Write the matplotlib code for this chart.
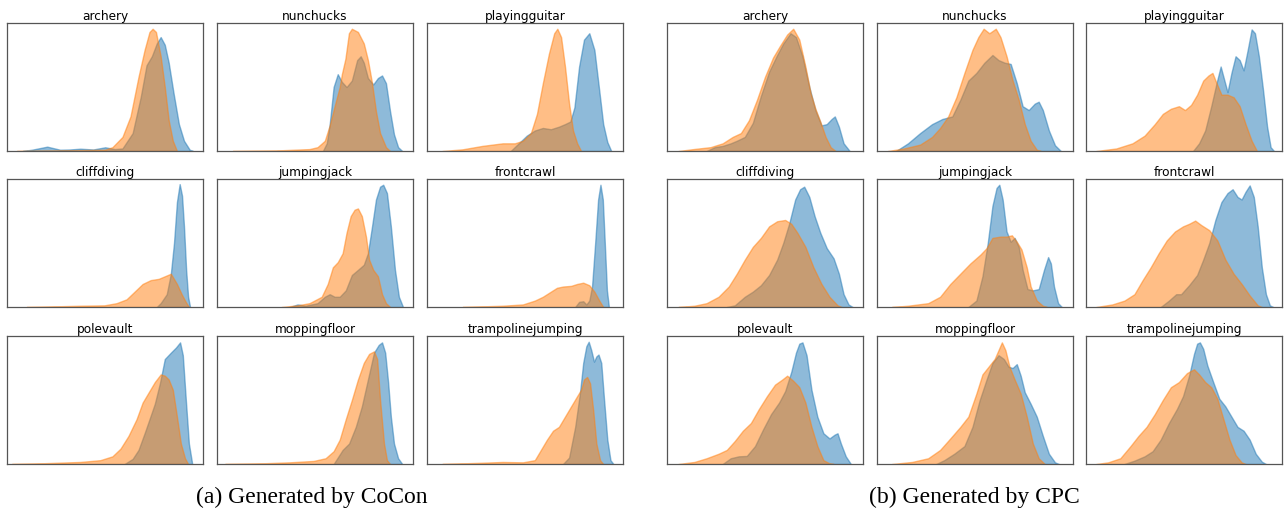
import matplotlib
matplotlib.use("Agg")
import numpy as np
import matplotlib.pyplot as plt

# class names, same order for both methods (row by row)
classes = ["archery", "nunchucks", "playingguitar",
           "cliffdiving", "jumpingjack", "frontcrawl",
           "polevault", "moppingfloor", "trampolinejumping"]

# density curves: (x, density), both scaled to the panel
# --- (a) CoCon ---
cocon_archery_blue = [(0.08, 0), (0.127, 0.01), (0.205, 0.034), (0.271, 0.01), (0.32, 0.012), (0.374, 0.018),
                      (0.44, 0.012), (0.501, 0.029), (0.55, 0.015), (0.589, 0.02), (0.641, 0.14), (0.682, 0.42),
                      (0.712, 0.67), (0.739, 0.74), (0.764, 0.84), (0.784, 0.89), (0.805, 0.83), (0.825, 0.69),
                      (0.85, 0.45), (0.877, 0.21), (0.903, 0.08), (0.932, 0.01), (0.949, 0)]
cocon_archery_orange = [(0.05, 0), (0.3, 0.005), (0.5, 0.01), (0.538, 0.03), (0.589, 0.11), (0.63, 0.27),
                        (0.671, 0.58), (0.702, 0.79), (0.727, 0.93), (0.743, 0.955), (0.76, 0.93), (0.784, 0.74),
                        (0.805, 0.5), (0.825, 0.24), (0.846, 0.08), (0.867, 0)]
cocon_nunchucks_blue = [(0.54, 0), (0.56, 0.06), (0.575, 0.21), (0.595, 0.5), (0.616, 0.6), (0.637, 0.54),
                        (0.661, 0.5), (0.688, 0.55), (0.715, 0.71), (0.733, 0.74), (0.749, 0.69), (0.77, 0.57),
                        (0.797, 0.52), (0.821, 0.57), (0.842, 0.59), (0.862, 0.53), (0.883, 0.31), (0.903, 0.13),
                        (0.924, 0.03), (0.945, 0)]
cocon_nunchucks_orange = [(0.08, 0), (0.3, 0.004), (0.472, 0.015), (0.513, 0.03), (0.55, 0.08), (0.575, 0.2),
                          (0.6, 0.35), (0.626, 0.5), (0.637, 0.6), (0.655, 0.72), (0.673, 0.92), (0.688, 0.955),
                          (0.719, 0.93), (0.749, 0.84), (0.77, 0.71), (0.791, 0.53), (0.811, 0.31), (0.832, 0.14),
                          (0.862, 0.03), (0.883, 0)]
cocon_playingguitar_blue = [(0.427, 0), (0.468, 0.06), (0.509, 0.12), (0.55, 0.16), (0.591, 0.18), (0.632, 0.17),
                            (0.673, 0.19), (0.704, 0.21), (0.731, 0.23), (0.752, 0.34), (0.776, 0.66), (0.801, 0.87),
                            (0.828, 0.92), (0.854, 0.79), (0.879, 0.47), (0.899, 0.21), (0.92, 0.07), (0.94, 0)]
cocon_playingguitar_orange = [(0.078, 0), (0.181, 0.013), (0.283, 0.04), (0.386, 0.06), (0.448, 0.06), (0.489, 0.08),
                              (0.53, 0.14), (0.561, 0.29), (0.591, 0.53), (0.622, 0.76), (0.649, 0.92), (0.665, 0.955),
                              (0.684, 0.89), (0.704, 0.66), (0.725, 0.37), (0.745, 0.16), (0.766, 0.06), (0.786, 0)]
cocon_cliffdiving_blue = [(0.764, 0), (0.784, 0.03), (0.815, 0.1), (0.836, 0.26), (0.852, 0.5), (0.867, 0.82),
                          (0.881, 0.96), (0.893, 0.87), (0.903, 0.63), (0.914, 0.29), (0.924, 0.08), (0.934, 0)]
cocon_cliffdiving_orange = [(0.1, 0), (0.168, 0.002), (0.374, 0.01), (0.497, 0.013), (0.559, 0.03), (0.61, 0.06),
                            (0.651, 0.12), (0.692, 0.18), (0.733, 0.21), (0.774, 0.22), (0.805, 0.24), (0.836, 0.26),
                            (0.867, 0.18), (0.891, 0.1), (0.912, 0.04), (0.928, 0)]
cocon_jumpingjack_blue = [(0.37, 0), (0.411, 0.02), (0.452, 0.01), (0.513, 0.03), (0.55, 0.08), (0.575, 0.1),
                          (0.6, 0.08), (0.626, 0.08), (0.657, 0.13), (0.688, 0.25), (0.719, 0.29), (0.749, 0.33),
                          (0.77, 0.42), (0.791, 0.63), (0.811, 0.84), (0.832, 0.94), (0.848, 0.955), (0.867, 0.89),
                          (0.887, 0.63), (0.908, 0.29), (0.928, 0.08), (0.949, 0)]
cocon_jumpingjack_orange = [(0.329, 0), (0.411, 0.013), (0.472, 0.03), (0.534, 0.08), (0.565, 0.18), (0.591, 0.31),
                            (0.616, 0.35), (0.641, 0.42), (0.661, 0.58), (0.682, 0.71), (0.702, 0.76), (0.719, 0.77),
                            (0.739, 0.71), (0.76, 0.55), (0.776, 0.37), (0.797, 0.29), (0.821, 0.24), (0.842, 0.1),
                            (0.862, 0.03), (0.883, 0)]
cocon_frontcrawl_blue = [(0.756, 0), (0.776, 0.04), (0.797, 0.045), (0.813, 0.02), (0.828, 0.05), (0.842, 0.16),
                         (0.858, 0.5), (0.873, 0.84), (0.885, 0.955), (0.897, 0.84), (0.908, 0.47), (0.918, 0.13),
                         (0.928, 0)]
cocon_frontcrawl_orange = [(0.181, 0), (0.386, 0.01), (0.489, 0.02), (0.55, 0.05), (0.591, 0.08), (0.632, 0.12),
                           (0.663, 0.15), (0.694, 0.16), (0.735, 0.165), (0.766, 0.18), (0.797, 0.19), (0.828, 0.17),
                           (0.854, 0.12), (0.879, 0.05), (0.899, 0)]
cocon_polevault_blue = [(0.6, 0), (0.641, 0.04), (0.671, 0.11), (0.702, 0.24), (0.727, 0.35), (0.754, 0.47),
                        (0.78, 0.63), (0.805, 0.82), (0.836, 0.87), (0.862, 0.91), (0.883, 0.95), (0.897, 0.85),
                        (0.912, 0.51), (0.928, 0.16), (0.945, 0)]
cocon_polevault_orange = [(0.025, 0), (0.168, 0.005), (0.374, 0.016), (0.476, 0.03), (0.538, 0.06), (0.579, 0.12),
                          (0.62, 0.22), (0.661, 0.35), (0.692, 0.48), (0.723, 0.56), (0.754, 0.64), (0.784, 0.7),
                          (0.805, 0.69), (0.825, 0.66), (0.846, 0.58), (0.867, 0.37), (0.887, 0.16), (0.908, 0.045),
                          (0.924, 0)]
cocon_moppingfloor_blue = [(0.595, 0), (0.616, 0.05), (0.641, 0.11), (0.674, 0.16), (0.708, 0.29), (0.739, 0.45),
                           (0.77, 0.66), (0.801, 0.87), (0.825, 0.93), (0.842, 0.95), (0.858, 0.87), (0.873, 0.64),
                           (0.887, 0.37), (0.903, 0.16), (0.924, 0.045), (0.945, 0)]
cocon_moppingfloor_orange = [(0.041, 0), (0.226, 0.005), (0.37, 0.013), (0.493, 0.024), (0.554, 0.045), (0.595, 0.1),
                             (0.626, 0.19), (0.657, 0.35), (0.688, 0.5), (0.719, 0.66), (0.749, 0.79), (0.776, 0.86),
                             (0.801, 0.88), (0.817, 0.82), (0.832, 0.5), (0.852, 0.16), (0.867, 0.03), (0.883, 0)]
cocon_trampolinejumping_blue = [(0.694, 0), (0.725, 0.05), (0.756, 0.29), (0.78, 0.55), (0.797, 0.79), (0.813, 0.92),
                                (0.825, 0.955), (0.838, 0.89), (0.852, 0.8), (0.864, 0.84), (0.875, 0.855),
                                (0.889, 0.79), (0.903, 0.51), (0.92, 0.19), (0.936, 0.03), (0.951, 0)]
cocon_trampolinejumping_orange = [(0.078, 0), (0.283, 0.01), (0.386, 0.016), (0.489, 0.013), (0.55, 0.03),
                                  (0.581, 0.11), (0.612, 0.19), (0.643, 0.26), (0.673, 0.29), (0.704, 0.37),
                                  (0.735, 0.45), (0.766, 0.53), (0.786, 0.58), (0.801, 0.66), (0.817, 0.68),
                                  (0.832, 0.63), (0.848, 0.42), (0.864, 0.16), (0.883, 0.03), (0.899, 0)]

# --- (b) CPC ---
cpc_archery_blue = [(0.202, 0), (0.243, 0.03), (0.284, 0.04), (0.325, 0.06), (0.356, 0.08), (0.397, 0.11),
                    (0.438, 0.22), (0.479, 0.43), (0.521, 0.62), (0.562, 0.75), (0.593, 0.84), (0.63, 0.92),
                    (0.658, 0.89), (0.691, 0.74), (0.726, 0.5), (0.757, 0.32), (0.788, 0.2), (0.815, 0.21),
                    (0.84, 0.25), (0.856, 0.27), (0.877, 0.19), (0.901, 0.06), (0.932, 0)]
cpc_archery_orange = [(0.058, 0), (0.14, 0.016), (0.222, 0.03), (0.284, 0.06), (0.335, 0.11), (0.377, 0.14),
                      (0.418, 0.24), (0.459, 0.4), (0.5, 0.58), (0.541, 0.73), (0.576, 0.82), (0.613, 0.91),
                      (0.644, 0.955), (0.675, 0.87), (0.706, 0.66), (0.733, 0.45), (0.757, 0.33), (0.782, 0.23),
                      (0.809, 0.11), (0.835, 0.03), (0.86, 0)]
cpc_nunchucks_blue = [(0.097, 0), (0.158, 0.06), (0.22, 0.14), (0.281, 0.21), (0.333, 0.25), (0.384, 0.27),
                      (0.425, 0.4), (0.466, 0.55), (0.507, 0.61), (0.548, 0.69), (0.589, 0.75), (0.62, 0.71),
                      (0.651, 0.69), (0.682, 0.68), (0.713, 0.53), (0.743, 0.35), (0.774, 0.32), (0.805, 0.37),
                      (0.825, 0.385), (0.846, 0.32), (0.877, 0.16), (0.908, 0.045), (0.938, 0)]
cpc_nunchucks_orange = [(0.055, 0), (0.138, 0.02), (0.22, 0.05), (0.281, 0.11), (0.322, 0.18), (0.363, 0.27),
                        (0.405, 0.42), (0.446, 0.61), (0.487, 0.79), (0.517, 0.89), (0.544, 0.955), (0.573, 0.92),
                        (0.606, 0.955), (0.63, 0.89), (0.661, 0.74), (0.692, 0.55), (0.723, 0.4), (0.754, 0.21),
                        (0.784, 0.08), (0.815, 0.01), (0.836, 0)]
cpc_playingguitar_blue = [(0.546, 0), (0.577, 0.06), (0.608, 0.16), (0.639, 0.35), (0.666, 0.53), (0.687, 0.66),
                          (0.701, 0.58), (0.722, 0.46), (0.742, 0.61), (0.763, 0.74), (0.784, 0.71), (0.804, 0.63),
                          (0.825, 0.79), (0.845, 0.95), (0.862, 0.92), (0.882, 0.74), (0.903, 0.48), (0.924, 0.19),
                          (0.942, 0.03), (0.959, 0)]
cpc_playingguitar_orange = [(0.052, 0), (0.155, 0.02), (0.237, 0.06), (0.299, 0.12), (0.351, 0.21), (0.392, 0.29),
                            (0.433, 0.33), (0.474, 0.35), (0.505, 0.32), (0.536, 0.36), (0.567, 0.44), (0.598, 0.55),
                            (0.625, 0.59), (0.645, 0.61), (0.666, 0.53), (0.691, 0.44), (0.722, 0.44), (0.753, 0.42),
                            (0.784, 0.35), (0.814, 0.21), (0.845, 0.08), (0.872, 0)]
cpc_cliffdiving_blue = [(0.305, 0), (0.346, 0.013), (0.397, 0.08), (0.438, 0.12), (0.479, 0.17), (0.521, 0.25),
                        (0.562, 0.37), (0.593, 0.5), (0.623, 0.65), (0.654, 0.84), (0.679, 0.92), (0.7, 0.94),
                        (0.726, 0.86), (0.753, 0.71), (0.782, 0.58), (0.815, 0.46), (0.85, 0.38), (0.877, 0.26),
                        (0.901, 0.1), (0.926, 0.02), (0.947, 0)]
cpc_cliffdiving_orange = [(0.058, 0), (0.14, 0.01), (0.202, 0.03), (0.263, 0.08), (0.315, 0.16), (0.356, 0.26),
                          (0.397, 0.37), (0.438, 0.47), (0.479, 0.54), (0.521, 0.63), (0.562, 0.67), (0.603, 0.68),
                          (0.634, 0.65), (0.665, 0.58), (0.706, 0.47), (0.747, 0.31), (0.788, 0.18), (0.829, 0.08),
                          (0.87, 0.013), (0.891, 0)]
cpc_jumpingjack_blue = [(0.466, 0), (0.507, 0.05), (0.538, 0.24), (0.565, 0.5), (0.589, 0.79), (0.61, 0.93),
                        (0.624, 0.955), (0.641, 0.84), (0.661, 0.59), (0.682, 0.51), (0.702, 0.54), (0.723, 0.47),
                        (0.743, 0.29), (0.768, 0.14), (0.795, 0.13), (0.825, 0.14), (0.852, 0.29), (0.873, 0.39),
                        (0.887, 0.34), (0.903, 0.16), (0.924, 0.03), (0.943, 0)]
cpc_jumpingjack_orange = [(0.076, 0), (0.158, 0.01), (0.261, 0.03), (0.322, 0.08), (0.374, 0.18), (0.425, 0.26),
                          (0.476, 0.34), (0.528, 0.41), (0.559, 0.46), (0.589, 0.54), (0.63, 0.55), (0.661, 0.55),
                          (0.688, 0.56), (0.713, 0.51), (0.737, 0.45), (0.764, 0.31), (0.784, 0.16), (0.815, 0.05),
                          (0.846, 0.01), (0.867, 0)]
cpc_frontcrawl_blue = [(0.381, 0), (0.423, 0.05), (0.46, 0.1), (0.485, 0.1), (0.526, 0.17), (0.567, 0.25),
                       (0.598, 0.37), (0.629, 0.5), (0.66, 0.68), (0.691, 0.82), (0.722, 0.89), (0.748, 0.92),
                       (0.773, 0.86), (0.794, 0.84), (0.814, 0.9), (0.835, 0.95), (0.856, 0.86), (0.876, 0.63),
                       (0.897, 0.31), (0.918, 0.1), (0.938, 0.013), (0.955, 0)]
cpc_frontcrawl_orange = [(0.052, 0), (0.134, 0.02), (0.196, 0.05), (0.247, 0.1), (0.289, 0.21), (0.33, 0.31),
                         (0.371, 0.42), (0.412, 0.52), (0.454, 0.59), (0.495, 0.63), (0.526, 0.65), (0.557, 0.675),
                         (0.588, 0.64), (0.629, 0.6), (0.67, 0.52), (0.711, 0.37), (0.753, 0.26), (0.794, 0.18),
                         (0.835, 0.09), (0.876, 0.013), (0.897, 0)]
cpc_polevault_blue = [(0.284, 0), (0.325, 0.045), (0.366, 0.06), (0.407, 0.063), (0.449, 0.14), (0.49, 0.27),
                      (0.531, 0.39), (0.572, 0.48), (0.603, 0.57), (0.634, 0.72), (0.658, 0.87), (0.675, 0.94),
                      (0.691, 0.95), (0.712, 0.85), (0.737, 0.58), (0.767, 0.37), (0.798, 0.24), (0.829, 0.2),
                      (0.856, 0.23), (0.87, 0.24), (0.887, 0.16), (0.912, 0.06), (0.938, 0)]
cpc_polevault_orange = [(0.058, 0), (0.14, 0.016), (0.202, 0.045), (0.263, 0.08), (0.305, 0.11), (0.346, 0.18),
                        (0.387, 0.26), (0.428, 0.32), (0.469, 0.43), (0.51, 0.53), (0.551, 0.62), (0.588, 0.66),
                        (0.613, 0.69), (0.644, 0.65), (0.675, 0.6), (0.706, 0.48), (0.737, 0.29), (0.767, 0.14),
                        (0.798, 0.03), (0.829, 0.005), (0.85, 0)]
cpc_moppingfloor_blue = [(0.302, 0), (0.343, 0.03), (0.394, 0.08), (0.446, 0.14), (0.487, 0.29), (0.524, 0.5),
                         (0.559, 0.66), (0.589, 0.79), (0.62, 0.85), (0.647, 0.82), (0.671, 0.76), (0.692, 0.75),
                         (0.713, 0.78), (0.733, 0.69), (0.754, 0.56), (0.784, 0.47), (0.815, 0.37), (0.846, 0.22),
                         (0.877, 0.08), (0.908, 0.013), (0.928, 0)]
cpc_moppingfloor_orange = [(0.076, 0), (0.179, 0.016), (0.261, 0.045), (0.322, 0.11), (0.374, 0.2), (0.425, 0.29),
                           (0.466, 0.37), (0.507, 0.55), (0.538, 0.7), (0.569, 0.76), (0.6, 0.82), (0.62, 0.89),
                           (0.637, 0.95), (0.655, 0.89), (0.676, 0.76), (0.702, 0.66), (0.733, 0.55), (0.764, 0.37),
                           (0.795, 0.16), (0.825, 0.045), (0.856, 0)]
cpc_trampolinejumping_blue = [(0.196, 0), (0.247, 0.026), (0.299, 0.06), (0.34, 0.1), (0.381, 0.19), (0.423, 0.32),
                              (0.464, 0.43), (0.495, 0.53), (0.526, 0.69), (0.551, 0.86), (0.567, 0.94), (0.581, 0.95),
                              (0.598, 0.9), (0.619, 0.77), (0.649, 0.64), (0.68, 0.51), (0.711, 0.45), (0.742, 0.37),
                              (0.773, 0.29), (0.804, 0.26), (0.835, 0.19), (0.866, 0.08), (0.897, 0.018), (0.918, 0)]
cpc_trampolinejumping_orange = [(0.052, 0), (0.113, 0.013), (0.175, 0.045), (0.227, 0.14), (0.268, 0.22),
                                (0.309, 0.29), (0.351, 0.39), (0.392, 0.5), (0.433, 0.6), (0.474, 0.64), (0.515, 0.71),
                                (0.551, 0.74), (0.577, 0.7), (0.608, 0.64), (0.639, 0.6), (0.67, 0.51), (0.701, 0.35),
                                (0.732, 0.19), (0.763, 0.07), (0.794, 0.013), (0.814, 0)]

captions = ["(a) Generated by CoCon", "(b) Generated by CPC"]

cocon_curves = [
    (cocon_archery_blue, cocon_archery_orange),
    (cocon_nunchucks_blue, cocon_nunchucks_orange),
    (cocon_playingguitar_blue, cocon_playingguitar_orange),
    (cocon_cliffdiving_blue, cocon_cliffdiving_orange),
    (cocon_jumpingjack_blue, cocon_jumpingjack_orange),
    (cocon_frontcrawl_blue, cocon_frontcrawl_orange),
    (cocon_polevault_blue, cocon_polevault_orange),
    (cocon_moppingfloor_blue, cocon_moppingfloor_orange),
    (cocon_trampolinejumping_blue, cocon_trampolinejumping_orange),
]
cpc_curves = [
    (cpc_archery_blue, cpc_archery_orange),
    (cpc_nunchucks_blue, cpc_nunchucks_orange),
    (cpc_playingguitar_blue, cpc_playingguitar_orange),
    (cpc_cliffdiving_blue, cpc_cliffdiving_orange),
    (cpc_jumpingjack_blue, cpc_jumpingjack_orange),
    (cpc_frontcrawl_blue, cpc_frontcrawl_orange),
    (cpc_polevault_blue, cpc_polevault_orange),
    (cpc_moppingfloor_blue, cpc_moppingfloor_orange),
    (cpc_trampolinejumping_blue, cpc_trampolinejumping_orange),
]

W, H = 1284, 514
fig = plt.figure(figsize=(W / 100, H / 100), dpi=100)

# panel boxes in pixels
col_left = [[7, 217, 427], [667, 877, 1086]]
row_top = [23, 179, 336]
pw, ph = 196, 128

blue = "#1f77b4"
orange = "#ff7f0e"


def draw_curve(ax, pts, color):
    xs = np.array([p[0] for p in pts])
    ys = np.array([p[1] for p in pts])
    ax.fill_between(xs, ys, 0, color=color, alpha=0.5, linewidth=1.0)


for g, curves in enumerate([cocon_curves, cpc_curves]):
    for i, (name, (b, o)) in enumerate(zip(classes, curves)):
        r, c = divmod(i, 3)
        x0 = col_left[g][c] / W
        y0 = 1 - (row_top[r] + ph) / H
        ax = fig.add_axes([x0, y0, pw / W, ph / H])
        draw_curve(ax, b, blue)
        draw_curve(ax, o, orange)
        ax.set_xlim(0, 1)
        ax.set_ylim(0, 1)
        ax.set_xticks([])
        ax.set_yticks([])
        for sp in ax.spines.values():
            sp.set_color("#555555")
            sp.set_linewidth(0.9)
        ax.set_title(name, fontsize=8.7, pad=2.5)

cap_x = [311.5, 974]
for cx, text in zip(cap_x, captions):
    fig.text(cx / W, 1 - 503 / H, text, ha="center", va="baseline",
             fontsize=17, family="Liberation Serif")

fig.savefig("out.png", dpi=100)
